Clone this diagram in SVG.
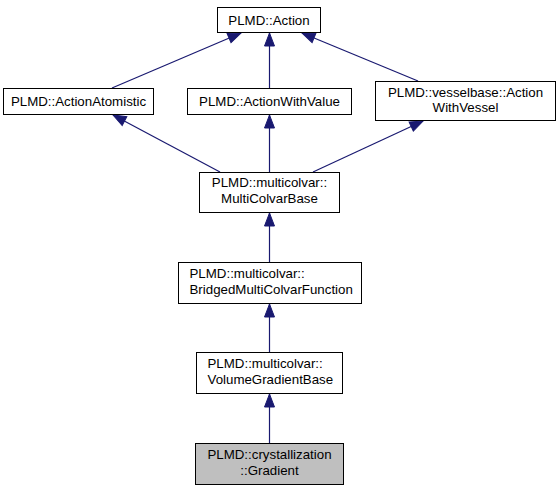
<svg xmlns="http://www.w3.org/2000/svg" width="560" height="491" viewBox="0 0 560 491">
<style>
.box{fill:#ffffff;stroke:#000000;stroke-width:1}
.cur{fill:#bfbfbf;stroke:#000000;stroke-width:1}
.t{font-family:"Liberation Sans",Arial,Helvetica,sans-serif;font-size:13.3px;fill:#000000}
.c{text-anchor:middle}
.e{fill:none;stroke:#191970;stroke-width:1.2}
</style>
<defs>
<marker id="arr" markerUnits="userSpaceOnUse" viewBox="0 0 13 10" refX="13" refY="5" markerWidth="13" markerHeight="10" orient="auto" overflow="visible">
<path d="M0,0 L13,5 L0,10 z" fill="#191970" stroke="#191970" stroke-width="1"/>
</marker>
</defs>
<rect width="560" height="491" fill="#ffffff"/>
<g id="edges">
<path class="e" d="M112,88 L241,33" marker-end="url(#arr)"/>
<path class="e" d="M269.5,88 L269.5,33" marker-end="url(#arr)"/>
<path class="e" d="M418,81 L302,33" marker-end="url(#arr)"/>
<path class="e" d="M220,172 L113,115" marker-end="url(#arr)"/>
<path class="e" d="M269.5,172 L269.5,115" marker-end="url(#arr)"/>
<path class="e" d="M313,172 L423,121" marker-end="url(#arr)"/>
<path class="e" d="M269.5,262 L269.5,213" marker-end="url(#arr)"/>
<path class="e" d="M269.5,352 L269.5,304" marker-end="url(#arr)"/>
<path class="e" d="M269.5,443 L269.5,394" marker-end="url(#arr)"/>
</g>
<g id="node-action">
<rect class="box" x="217.5" y="7.5" width="103" height="25"/>
<text class="t c" x="269" y="24.5">PLMD::Action</text>
</g>
<g id="node-actionatomistic">
<rect class="box" x="3.5" y="88.5" width="150" height="26"/>
<text class="t c" x="78.5" y="106">PLMD::ActionAtomistic</text>
</g>
<g id="node-actionwithvalue">
<rect class="box" x="187.5" y="88.5" width="164" height="26"/>
<text class="t c" x="269.5" y="106">PLMD::ActionWithValue</text>
</g>
<g id="node-actionwithvessel">
<rect class="box" x="375.5" y="81.5" width="180" height="39"/>
<text class="t c" x="465.5" y="97">PLMD::vesselbase::Action</text>
<text class="t c" x="465.5" y="112">WithVessel</text>
</g>
<g id="node-multicolvarbase">
<rect class="box" x="199.5" y="172.5" width="140" height="40"/>
<text class="t c" x="269.5" y="187">PLMD::multicolvar::</text>
<text class="t c" x="269.5" y="203">MultiColvarBase</text>
</g>
<g id="node-bridged">
<rect class="box" x="178.5" y="262.5" width="183" height="41"/>
<text class="t" x="189.5" y="278">PLMD::multicolvar::</text>
<text class="t" x="189.5" y="294">BridgedMultiColvarFunction</text>
</g>
<g id="node-volumegradientbase">
<rect class="box" x="196.5" y="352.5" width="146" height="41"/>
<text class="t" x="207.5" y="368">PLMD::multicolvar::</text>
<text class="t" x="207.5" y="384">VolumeGradientBase</text>
</g>
<g id="node-gradient">
<rect class="cur" x="195.5" y="443.5" width="148" height="41"/>
<text class="t c" x="269.5" y="459">PLMD::crystallization</text>
<text class="t c" x="269.5" y="475">::Gradient</text>
</g>
</svg>
